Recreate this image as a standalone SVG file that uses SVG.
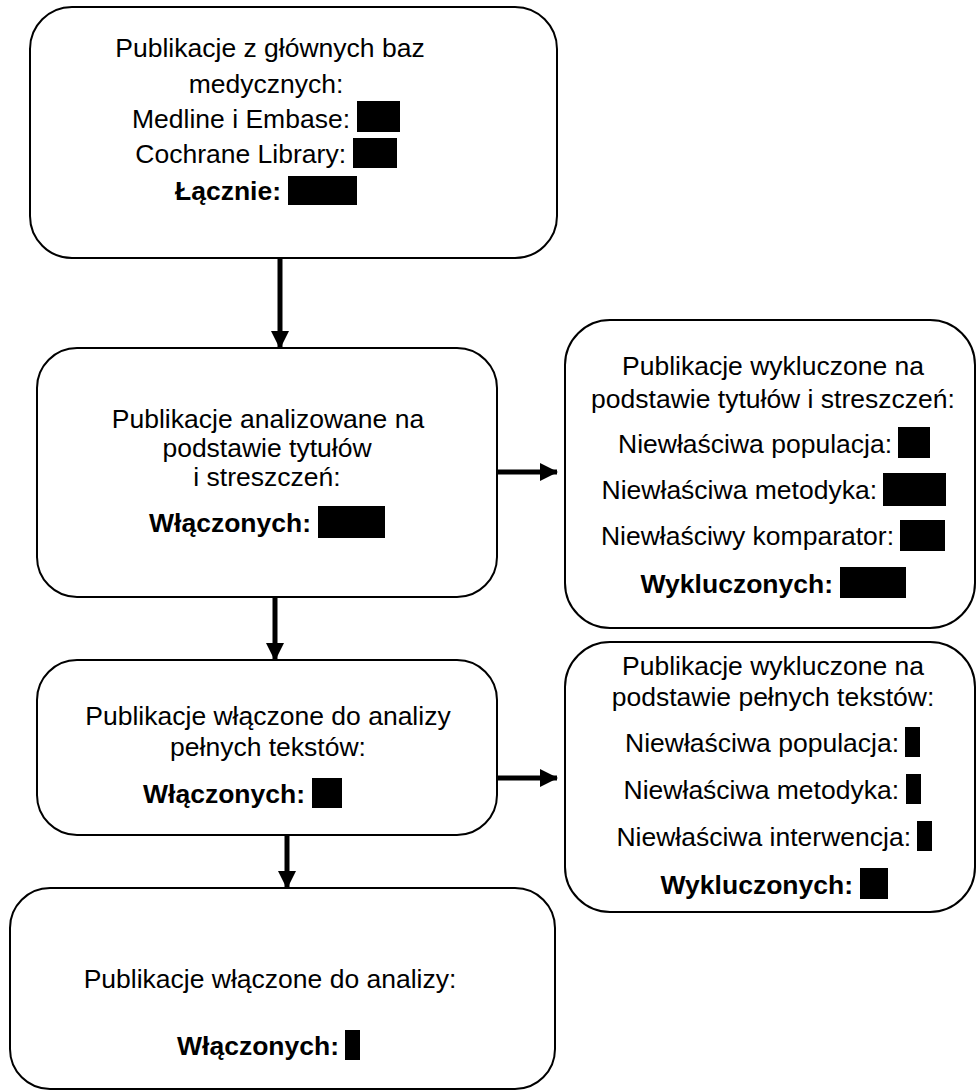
<svg xmlns="http://www.w3.org/2000/svg" width="978" height="1092" viewBox="0 0 978 1092">
<style>
.box{fill:#fff;stroke:#000;stroke-width:2}
text{font-family:"Liberation Sans",Arial,Helvetica,sans-serif;font-size:26.5px;fill:#000}
.c{text-anchor:middle}
.e{text-anchor:end}
.b{font-weight:bold}
.k{fill:#000}
.conn{stroke:#000;stroke-width:5;fill:none}
</style>
<defs>
<marker id="ah" markerUnits="userSpaceOnUse" markerWidth="18" markerHeight="18" refX="17" refY="9" orient="auto">
<path d="M0,0 L18,9 L0,18 z" fill="#000"/>
</marker>
</defs>
<rect width="978" height="1092" fill="#fff"/>
<g id="connectors">
<line class="conn" x1="280" y1="258" x2="280" y2="348" marker-end="url(#ah)"/>
<line class="conn" x1="497" y1="472" x2="557" y2="472" marker-end="url(#ah)"/>
<line class="conn" x1="275" y1="597" x2="275" y2="660" marker-end="url(#ah)"/>
<line class="conn" x1="497" y1="778" x2="557" y2="778" marker-end="url(#ah)"/>
<line class="conn" x1="287" y1="835" x2="287" y2="888" marker-end="url(#ah)"/>
</g>
<g id="n1">
<rect class="box" x="30" y="7" width="527" height="251" rx="42"/>
<text class="c" x="270" y="56.5">Publikacje z głównych baz</text>
<text class="c" x="266" y="92.5">medycznych:</text>
<text class="e" x="350" y="127.5">Medline i Embase:</text>
<rect class="k" x="357" y="101" width="43" height="31"/>
<text class="e" x="346" y="162.5">Cochrane Library:</text>
<rect class="k" x="353" y="138" width="44" height="30"/>
<text class="e b" x="281" y="199.5">Łącznie:</text>
<rect class="k" x="288" y="176" width="69" height="29"/>
</g>
<g id="n2">
<rect class="box" x="37" y="348" width="460" height="249" rx="40"/>
<text class="c" x="268" y="427.5">Publikacje analizowane na</text>
<text class="c" x="267" y="456.5">podstawie tytułów</text>
<text class="c" x="267" y="485.5">i streszczeń:</text>
<text class="e b" x="311" y="531.5">Włączonych:</text>
<rect class="k" x="318" y="506" width="67" height="32"/>
</g>
<g id="n3">
<rect class="box" x="565" y="320" width="410" height="308" rx="45"/>
<text class="c" x="773" y="374.5">Publikacje wykluczone na</text>
<text class="c" x="773" y="407.5">podstawie tytułów i streszczeń:</text>
<text class="e" x="892" y="452.5">Niewłaściwa populacja:</text>
<rect class="k" x="898" y="427" width="32" height="31"/>
<text class="e" x="877" y="498.5">Niewłaściwa metodyka:</text>
<rect class="k" x="883" y="473" width="63" height="33"/>
<text class="e" x="894" y="544.5">Niewłaściwy komparator:</text>
<rect class="k" x="900" y="520" width="45" height="31"/>
<text class="e b" x="833" y="592.5">Wykluczonych:</text>
<rect class="k" x="840" y="567" width="66" height="31"/>
</g>
<g id="n4">
<rect class="box" x="37" y="660" width="460" height="175" rx="40"/>
<text class="c" x="268" y="724.5">Publikacje włączone do analizy</text>
<text class="c" x="268" y="755.5">pełnych tekstów:</text>
<text class="e b" x="305" y="802.5">Włączonych:</text>
<rect class="k" x="312" y="778" width="30" height="30"/>
</g>
<g id="n5">
<rect class="box" x="565" y="642" width="410" height="270" rx="45"/>
<text class="c" x="773" y="674.5">Publikacje wykluczone na</text>
<text class="c" x="773" y="705.5">podstawie pełnych tekstów:</text>
<text class="e" x="899" y="751.5">Niewłaściwa populacja:</text>
<rect class="k" x="905" y="727" width="15" height="30"/>
<text class="e" x="899" y="798.5">Niewłaściwa metodyka:</text>
<rect class="k" x="906" y="774" width="15" height="30"/>
<text class="e" x="911" y="845.5">Niewłaściwa interwencja:</text>
<rect class="k" x="917" y="821" width="15" height="30"/>
<text class="e b" x="853" y="893.5">Wykluczonych:</text>
<rect class="k" x="860" y="868" width="28" height="31"/>
</g>
<g id="n6">
<rect class="box" x="10" y="888" width="545" height="201" rx="40"/>
<text class="c" x="270" y="987.5">Publikacje włączone do analizy:</text>
<text class="e b" x="339" y="1054.5">Włączonych:</text>
<rect class="k" x="345" y="1030" width="15" height="30"/>
</g>
</svg>
